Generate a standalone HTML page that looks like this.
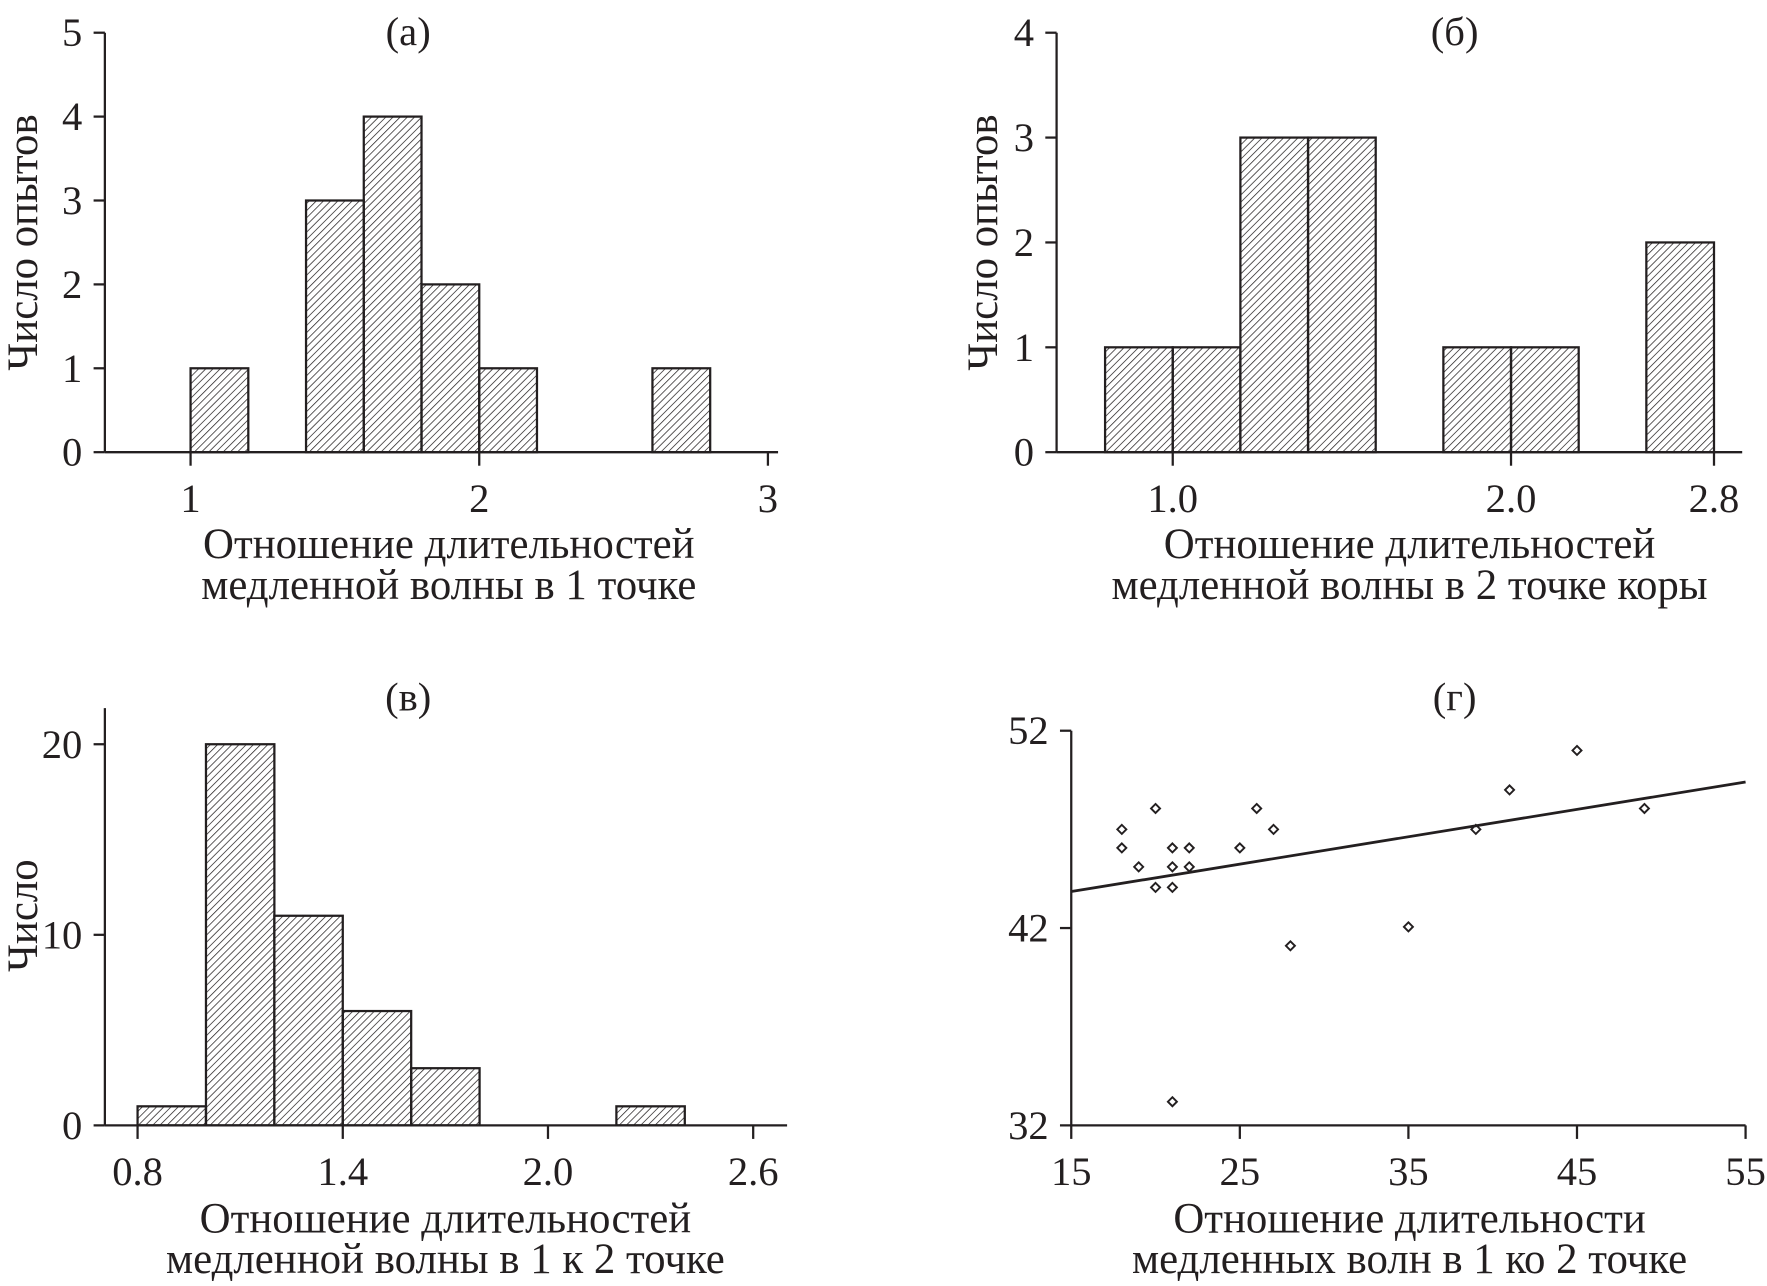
<!DOCTYPE html>
<html><head><meta charset="utf-8"><style>
html,body{margin:0;padding:0;background:#fff}
svg text{font-family:"Liberation Serif",serif;fill:#231f20}
</style></head><body>
<svg id="s" width="1767" height="1281" viewBox="0 0 1567 1136" xmlns="http://www.w3.org/2000/svg">
<defs><pattern id="h" patternUnits="userSpaceOnUse" width="4.5" height="4.5" patternTransform="rotate(45)"><line x1="0" y1="0" x2="0" y2="4.5" stroke="#231f20" stroke-width="1.3"/></pattern></defs>
</svg>
<script>
// Panel a
const aBinsStart=[1.0,1.4,1.6,1.8,2.0,2.6];
const aCounts=[1,3,4,2,1,1];
const aXTicks=[1,2,3];
const aYTicks=[0,1,2,3,4,5];
// Panel b (bin index based)
const bCounts=[1,1,3,3,0,1,1,0,2];
const bXTickEdges=[1,6,9];
const bXTickLabels=["1.0","2.0","2.8"];
const bYTicks=[0,1,2,3,4];
// Panel c
const cBinsStart=[0.8,1.0,1.2,1.4,1.6,2.2];
const cCounts=[1,20,11,6,3,1];
const cXTickLabels=["0.8","1.4","2.0","2.6"];
const cXTicks=[0.8,1.4,2.0,2.6];
const cYTicks=[0,10,20];
// Panel d
const dX=[18,18,19,20,20,21,21,21,22,22,25,26,27,28,35,39,41,45,49,21];
const dY=[47.0,46.06,45.1,48.06,44.06,46.06,45.1,44.06,46.06,45.1,46.06,48.06,47.0,41.1,42.06,47.0,49.0,51.0,48.06,33.2];
const dLine=[[15,43.85],[55,49.4]];
const dXTicks=[15,25,35,45,55];
const dYTicks=[32,42,52];

const S=document.getElementById('s');const NS='http://www.w3.org/2000/svg';
const TF=36, LF=38;
function el(t,a,p){const e=document.createElementNS(NS,t);for(const k in a)e.setAttribute(k,a[k]);(p||S).appendChild(e);return e;}
function txt(x,y,s,sz,anchor,name,rot){const t=el('text',{x:x,y:y,'font-size':sz,'text-anchor':anchor||'middle'});if(rot)t.setAttribute('transform','rotate(-90 '+x+' '+y+')');t.textContent=s;

return t;}
function line(x1,y1,x2,y2,w,name){const l=el('line',{x1,y1,x2,y2,stroke:'#231f20','stroke-width':w||2});

return l;}
function axes(ax,yTop,yBot,xL,xR,yt,ys,xt,xs,xl,name){
 line(ax,yTop,ax,yBot,2,name+'-y-axis');line(ax,yBot,xR,yBot,2,name+'-x-axis');
 yt.forEach((v,i)=>{const y=ys(v);line(ax-10,y,ax,y,2,name+'-y-tick');txt(ax-20,y+12,String(v),TF,'end',name+'-y-tick-label');});
 xt.forEach((v,i)=>{const x=xs(v);line(x,yBot,x,yBot+12,2,name+'-x-tick');txt(x,yBot+53,xl[i],TF,'middle',name+'-x-tick-label');});
}
function bar(x0,x1,y0,y,name){const r=el('rect',{x:x0,y:y,width:x1-x0,height:y0-y,fill:'url(#h)',stroke:'#231f20','stroke-width':2});

}
// a
{const xs=v=>169+(v-1)*256, ys=v=>401-v*74.4;
axes(93,29,401,93,690,aYTicks,ys,aXTicks,xs,aXTicks.map(String),'a');
aBinsStart.forEach((b,i)=>bar(xs(b),xs(b+0.2),401,ys(aCounts[i]),'a-bar-'+i));
txt(362,40,'(а)',TF,'middle','a-title');
txt(33,215,'Число опытов',LF,'middle','a-y-axis-title',true);
txt(398,495,'Отношение длительностей',LF,'middle','a-x-axis-title-line1');
txt(398,531,'медленной волны в 1 точке',LF,'middle','a-x-axis-title-line2');}
// b
{const xs=k=>980+k*60, ys=v=>401-v*93;
axes(937,29,401,937,1545,bYTicks,ys,bXTickEdges,xs,bXTickLabels,'b');
bCounts.forEach((c,i)=>{if(c>0)bar(xs(i),xs(i+1),401,ys(c),'b-bar-'+i);});
txt(1290,40,'(б)',TF,'middle','b-title');
txt(884,215,'Число опытов',LF,'middle','b-y-axis-title',true);
txt(1250,495,'Отношение длительностей',LF,'middle','b-x-axis-title-line1');
txt(1250,531,'медленной волны в 2 точке коры',LF,'middle','b-x-axis-title-line2');}
// c
{const xs=v=>122+(v-0.8)*303.3, ys=v=>998-v*16.9;
axes(93,628,998,93,698,cYTicks,ys,cXTicks,xs,cXTickLabels,'c');
cBinsStart.forEach((b,i)=>bar(xs(b),xs(b+0.2),998,ys(cCounts[i]),'c-bar-'+i));
txt(362,630,'(в)',TF,'middle','c-title');
txt(33,812,'Число',LF,'middle','c-y-axis-title',true);
txt(395,1093,'Отношение длительностей',LF,'middle','c-x-axis-title-line1');
txt(395,1129,'медленной волны в 1 к 2 точке',LF,'middle','c-x-axis-title-line2');}
// d
{const xs=v=>950+(v-15)*14.95, ys=v=>998-(v-32)*17.5;
axes(950,648,998,950,1548,dYTicks,ys,dXTicks,xs,dXTicks.map(String),'d');
dX.forEach((x,i)=>{const cx=xs(x),cy=ys(dY[i]);const p=el('polygon',{points:`${cx},${cy-4} ${cx+4},${cy} ${cx},${cy+4} ${cx-4},${cy}`,fill:'#fff',stroke:'#231f20','stroke-width':1.7});

});
line(xs(dLine[0][0]),ys(dLine[0][1]),xs(dLine[1][0]),ys(dLine[1][1]),2.5,'d-trend-line');
txt(1290,630,'(г)',TF,'middle','d-title');
txt(1250,1093,'Отношение длительности',LF,'middle','d-x-axis-title-line1');
txt(1250,1129,'медленных волн в 1 ко 2 точке',LF,'middle','d-x-axis-title-line2');}
</script>
</body></html>
